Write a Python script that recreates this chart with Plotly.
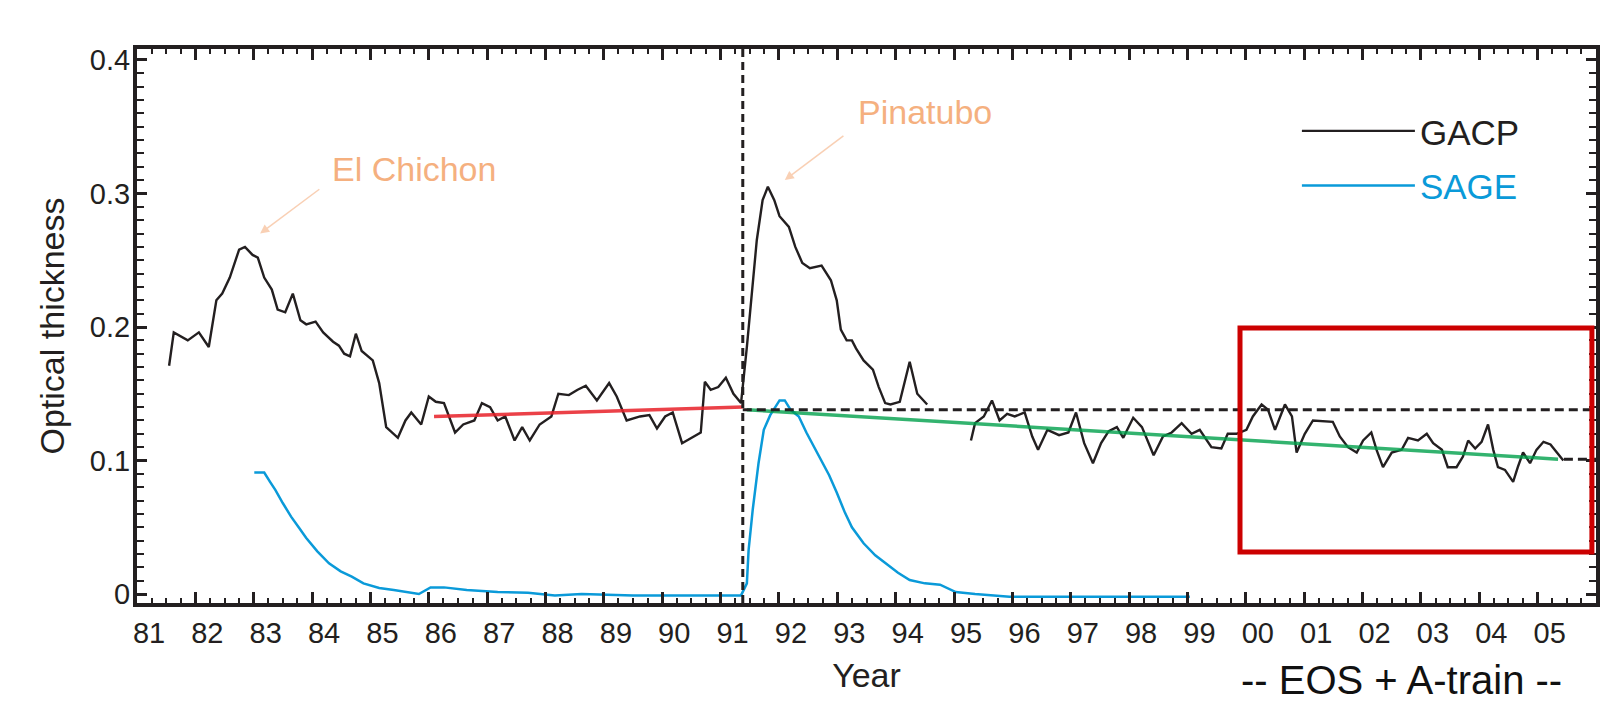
import plotly.graph_objects as go

# ---------------- data ----------------
gacp_year = [1981.55, 1981.63, 1981.87, 1982.06, 1982.23, 1982.36, 1982.46, 1982.59, 1982.75, 1982.85,
             1982.98, 1983.07, 1983.18, 1983.31, 1983.41, 1983.54, 1983.67, 1983.80, 1983.90, 1984.06,
             1984.19, 1984.36, 1984.46, 1984.55, 1984.65, 1984.75, 1984.85, 1984.95, 1985.04, 1985.15,
             1985.20, 1985.27, 1985.47, 1985.60, 1985.70, 1985.87, 1986.00, 1986.12, 1986.26, 1986.45,
             1986.59, 1986.78, 1986.91, 1987.05, 1987.18, 1987.31, 1987.47, 1987.60, 1987.73, 1987.90,
             1988.10, 1988.22, 1988.40, 1988.55, 1988.69, 1988.88, 1989.09, 1989.22, 1989.39, 1989.62,
             1989.78, 1989.91, 1990.05, 1990.18, 1990.34, 1990.50, 1990.66, 1990.73, 1990.83, 1990.96,
             1991.09, 1991.22, 1991.35, 1991.45, 1991.52, 1991.62, 1991.72, 1991.81, 1991.92, 1992.01,
             1992.17, 1992.28, 1992.40, 1992.53, 1992.73, 1992.89, 1992.99, 1993.06, 1993.16, 1993.25,
             1993.32, 1993.45, 1993.61, 1993.71, 1993.82, 1993.91, 1994.07, 1994.24, 1994.37, 1994.54,
             1994.90,
             1995.29, 1995.36, 1995.51, 1995.65, 1995.78, 1995.91, 1996.04, 1996.21, 1996.34, 1996.44,
             1996.60, 1996.80, 1996.96, 1997.09, 1997.23, 1997.38, 1997.52, 1997.65, 1997.79, 1997.90,
             1998.07, 1998.22, 1998.42, 1998.58, 1998.73, 1998.90, 1999.07, 1999.21, 1999.41, 1999.58,
             1999.69, 1999.84, 2000.01, 2000.12, 2000.27, 2000.38, 2000.50, 2000.67, 2000.79, 2000.87,
             2001.01, 2001.15, 2001.49, 2001.61, 2001.75, 2001.90, 2002.01, 2002.15, 2002.24, 2002.35,
             2002.50, 2002.67, 2002.78, 2002.95, 2003.10, 2003.21, 2003.36, 2003.46, 2003.61, 2003.72,
             2003.81, 2003.93, 2004.04, 2004.15, 2004.24, 2004.32, 2004.44, 2004.58, 2004.66, 2004.75,
             2004.87, 2004.98, 2005.10, 2005.22, 2005.33, 2005.44]
gacp_tau = [0.171, 0.196, 0.190, 0.196, 0.185, 0.220, 0.225, 0.237, 0.258, 0.260,
            0.254, 0.252, 0.237, 0.228, 0.213, 0.211, 0.225, 0.205, 0.202, 0.204,
            0.196, 0.189, 0.186, 0.180, 0.178, 0.195, 0.182, 0.178, 0.175, 0.158,
            0.145, 0.125, 0.117, 0.130, 0.136, 0.127, 0.148, 0.144, 0.143, 0.121,
            0.127, 0.130, 0.143, 0.140, 0.130, 0.133, 0.115, 0.125, 0.115, 0.127,
            0.133, 0.150, 0.149, 0.153, 0.156, 0.145, 0.158, 0.148, 0.130, 0.133,
            0.134, 0.124, 0.133, 0.136, 0.113, 0.117, 0.121, 0.159, 0.153, 0.155,
            0.162, 0.150, 0.143, 0.185, 0.220, 0.265, 0.295, 0.305, 0.295, 0.283,
            0.275, 0.260, 0.248, 0.244, 0.246, 0.235, 0.220, 0.198, 0.190, 0.190,
            0.184, 0.175, 0.168, 0.155, 0.143, 0.142, 0.144, 0.174, 0.150, 0.142,
            None,
            0.115, 0.128, 0.133, 0.145, 0.130, 0.135, 0.133, 0.136, 0.118, 0.108,
            0.123, 0.119, 0.121, 0.136, 0.113, 0.098, 0.113, 0.122, 0.125, 0.117,
            0.132, 0.125, 0.104, 0.118, 0.121, 0.128, 0.120, 0.123, 0.110, 0.109,
            0.120, 0.120, 0.123, 0.133, 0.142, 0.138, 0.123, 0.142, 0.133, 0.106,
            0.120, 0.130, 0.129, 0.118, 0.110, 0.106, 0.115, 0.121, 0.108, 0.095,
            0.106, 0.108, 0.117, 0.115, 0.120, 0.113, 0.108, 0.095, 0.095, 0.103,
            0.115, 0.109, 0.114, 0.127, 0.108, 0.095, 0.093, 0.084, 0.095, 0.106,
            0.098, 0.108, 0.114, 0.112, 0.106, 0.100]

sage_year = [1983.01, 1983.18, 1983.28, 1983.37, 1983.50, 1983.64, 1983.77, 1983.90, 1984.09, 1984.29,
             1984.49, 1984.68, 1984.88, 1985.15, 1985.40, 1985.67, 1985.83, 1986.03, 1986.26, 1986.65,
             1987.18, 1987.70, 1988.16, 1988.62, 1989.50, 1990.50, 1991.35, 1991.45, 1991.48, 1991.55,
             1991.65, 1991.74, 1991.85, 1992.01, 1992.10, 1992.20, 1992.34, 1992.47, 1992.60, 1992.73,
             1992.86, 1992.99, 1993.13, 1993.25, 1993.45, 1993.65, 1993.85, 1994.04, 1994.24, 1994.50,
             1994.76, 1995.03, 1995.36, 1995.95, 1996.60, 1997.26, 1998.04, 1999.04]
sage_tau = [0.091, 0.091, 0.084, 0.078, 0.068, 0.058, 0.050, 0.042, 0.032, 0.023,
            0.017, 0.013, 0.008, 0.0045, 0.003, 0.001, 0.000, 0.005, 0.005, 0.003,
            0.0015, 0.001, -0.001, 0.000, -0.001, -0.001, -0.001, 0.008, 0.033, 0.063,
            0.098, 0.123, 0.134, 0.145, 0.145, 0.138, 0.133, 0.121, 0.110, 0.100,
            0.089, 0.076, 0.061, 0.050, 0.038, 0.029, 0.022, 0.016, 0.0105, 0.008,
            0.007, 0.0015, 0.000, -0.002, -0.002, -0.002, -0.002, -0.002]

# trend lines (pre- and post-Pinatubo)
red_trend_year = [1986.09, 1991.38]
red_trend_tau = [0.133, 0.140]
green_trend_year = [1991.45, 2005.35]
green_trend_tau = [0.138, 0.101]

# reference levels / events
pinatubo_year = 1991.38
pre_pinatubo_level = 0.138
trend_end_year = 2005.45
trend_end_level = 0.101
eos_box = dict(x0=1999.9, x1=2005.93, y0=0.0315, y1=0.1993)

year_ticks = list(range(1981, 2006))
year_labels = [f"{y % 100:02d}" for y in year_ticks]
tau_ticks = [0, 0.1, 0.2, 0.3, 0.4]
tau_labels = ["0", "0.1", "0.2", "0.3", "0.4"]

# ---------------- styling ----------------
INK = "#231f20"
BLUE = "#0a9ad9"
ORANGE = "#f5b07f"
FONT = "Liberation Sans, Arial, sans-serif"

fig = go.Figure()
fig.add_trace(go.Scatter(x=gacp_year, y=gacp_tau, mode="lines", name="GACP",
                         line=dict(color=INK, width=2.4), legendgroup="a",
                         connectgaps=False))
fig.add_trace(go.Scatter(x=sage_year, y=sage_tau, mode="lines",
                         name=f"<span style='color:{BLUE}'>SAGE</span>",
                         line=dict(color=BLUE, width=2.5), legendgroup="b"))
fig.add_trace(go.Scatter(x=red_trend_year, y=red_trend_tau, mode="lines", showlegend=False,
                         line=dict(color="rgba(232,32,40,0.85)", width=3.5)))
fig.add_trace(go.Scatter(x=green_trend_year, y=green_trend_tau, mode="lines", showlegend=False,
                         line=dict(color="rgba(0,160,75,0.8)", width=3.5)))

shapes = [
    dict(type="line", xref="x", yref="paper", x0=pinatubo_year, x1=pinatubo_year, y0=0, y1=1,
         line=dict(color=INK, width=3, dash="8px,5px")),
    dict(type="line", xref="x", yref="y", x0=pinatubo_year, x1=2006, y0=pre_pinatubo_level,
         y1=pre_pinatubo_level, line=dict(color=INK, width=3, dash="9px,5px")),
    dict(type="line", xref="x", yref="y", x0=trend_end_year, x1=2006, y0=trend_end_level,
         y1=trend_end_level, line=dict(color=INK, width=3, dash="9px,5px")),
    dict(type="rect", xref="x", yref="y", **eos_box, line=dict(color="#cc0000", width=5)),
]

annotations = [
    dict(x=1985.75, y=0.318, xref="x", yref="y", text="El Chichon", showarrow=False,
         font=dict(family=FONT, size=34, color=ORANGE)),
    dict(x=1994.5, y=0.361, xref="x", yref="y", text="Pinatubo", showarrow=False,
         font=dict(family=FONT, size=34, color=ORANGE)),
    dict(x=1983.11, y=0.270, ax=1984.15, ay=0.304, xref="x", yref="y", axref="x", ayref="y",
         text="", showarrow=True, arrowhead=2, arrowsize=1.2, arrowwidth=1.5,
         arrowcolor="rgba(245,170,120,0.55)"),
    dict(x=1992.10, y=0.310, ax=1993.13, ay=0.344, xref="x", yref="y", axref="x", ayref="y",
         text="", showarrow=True, arrowhead=2, arrowsize=1.2, arrowwidth=1.5,
         arrowcolor="rgba(245,170,120,0.55)"),
    dict(x=0.867, y=-0.139, xref="paper", yref="paper", text="-- EOS + A-train --",
         showarrow=False, xanchor="center", yanchor="middle",
         font=dict(family=FONT, size=40, color="#111111")),
]

# the page body adds an 8 px margin, so the figure is 8 px smaller than the window
fig.update_layout(
    width=1608, height=699,
    margin=dict(l=129, r=20, t=41, b=104),
    plot_bgcolor="white", paper_bgcolor="white",
    font=dict(family=FONT, color=INK),
    shapes=shapes, annotations=annotations,
    showlegend=True,
    legend=dict(x=0.795, y=0.905, xanchor="left", yanchor="top", bgcolor="rgba(0,0,0,0)",
                font=dict(family=FONT, size=35, color=INK), itemwidth=113,
                tracegroupgap=6),
    xaxis=dict(range=[1981, 2006], tickmode="array", tickvals=year_ticks, ticktext=year_labels,
               ticks="inside", ticklen=11, tickwidth=2.5, tickcolor=INK,
               showline=True, linewidth=4, linecolor=INK, mirror="allticks",
               showgrid=False, zeroline=False, ticklabelshift=12, ticklabelstandoff=1,
               tickfont=dict(family=FONT, size=29, color=INK),
               minor=dict(tickmode="linear", tick0=1981, dtick=0.25, ticks="inside", ticklen=5,
                          tickwidth=2, tickcolor=INK, showgrid=False),
               title=dict(text="Year", font=dict(family=FONT, size=34, color=INK), standoff=16)),
    yaxis=dict(range=[-0.0067, 0.4082], tickmode="array", tickvals=tau_ticks, ticktext=tau_labels,
               ticks="inside", ticklen=10, tickwidth=2.5, tickcolor=INK,
               showline=True, linewidth=4, linecolor=INK, mirror="allticks",
               showgrid=False, zeroline=False, ticklabelstandoff=-3,
               tickfont=dict(family=FONT, size=29, color=INK),
               minor=dict(tickmode="linear", tick0=0, dtick=0.01, ticks="inside", ticklen=7,
                          tickwidth=2, tickcolor=INK, showgrid=False),
               title=dict(text="Optical thickness", font=dict(family=FONT, size=34, color=INK),
                          standoff=16)),
)

fig.write_html("out.html")
